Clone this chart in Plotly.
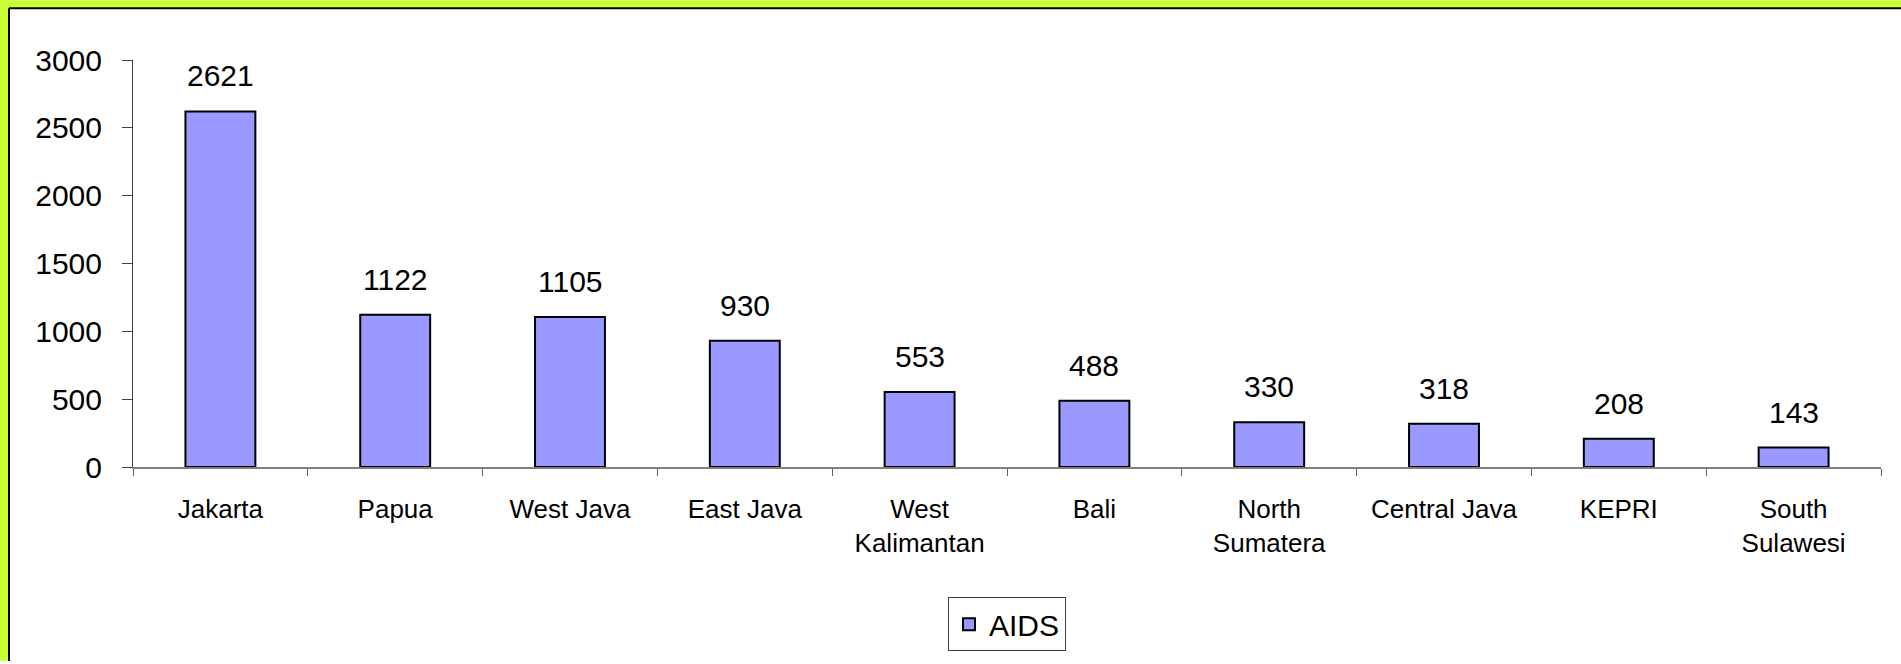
import plotly.graph_objects as go

categories = ["Jakarta", "Papua", "West Java", "East Java", "West<br>Kalimantan",
              "Bali", "North<br>Sumatera", "Central Java", "KEPRI", "South<br>Sulawesi"]
aids_values = [2621, 1122, 1105, 930, 553, 488, 330, 318, 208, 143]
y_ticks = [0, 500, 1000, 1500, 2000, 2500, 3000]
series_name = "AIDS"

W, H = 1901, 664
L, R, T, B = 133, 20, 60, 195
pw, ph = W - L - R, H - T - B

FONT = "Liberation Sans, Arial, sans-serif"
GREEN = "#CCFF33"


def px_x(p):
    return (p - L) / pw


def px_y(p):
    return 1 - (p - T) / ph


fig = go.Figure()
fig.add_trace(go.Bar(
    x=categories, y=aids_values, name=series_name,
    marker=dict(color="#9999FF", line=dict(color="#000000", width=2)),
    showlegend=True,
))

for c, v in zip(categories, aids_values):
    fig.add_annotation(x=c, y=v, text=str(v), showarrow=False,
                       yanchor="bottom", yshift=17,
                       font=dict(family=FONT, size=30, color="#000000"))

# green border strips on top and left, with black edge lines
fig.add_shape(type="rect", xref="paper", yref="paper",
              x0=px_x(0), x1=px_x(W), y0=px_y(8), y1=px_y(0),
              fillcolor=GREEN, line=dict(width=0), layer="below")
fig.add_shape(type="rect", xref="paper", yref="paper",
              x0=px_x(0), x1=px_x(9), y0=px_y(H), y1=px_y(0),
              fillcolor=GREEN, line=dict(width=0), layer="below")
fig.add_shape(type="line", xref="paper", yref="paper",
              x0=px_x(9), x1=px_x(W), y0=px_y(8), y1=px_y(8),
              line=dict(color="#000000", width=2), layer="below")
fig.add_shape(type="line", xref="paper", yref="paper",
              x0=px_x(9), x1=px_x(9), y0=px_y(8), y1=px_y(H),
              line=dict(color="#000000", width=2), layer="below")

fig.update_layout(
    width=W, height=H,
    margin=dict(l=L, r=R, t=T, b=B, pad=0),
    paper_bgcolor="#FFFFFF",
    plot_bgcolor="#FFFFFF",
    bargap=0.6,
    font=dict(family=FONT, color="#000000"),
    legend=dict(orientation="h", x=0.5, xanchor="center", y=px_y(600),
                yanchor="top", bordercolor="#404040", borderwidth=1,
                bgcolor="#FFFFFF", font=dict(family=FONT, size=30)),
    xaxis=dict(
        type="category", range=[-0.5, 9.5],
        showline=True, linecolor="#808080", linewidth=2,
        ticks="outside", tickson="boundaries", ticklen=7, tickcolor="#606060", tickwidth=1,
        tickfont=dict(family=FONT, size=26), ticklabelstandoff=18,
        showgrid=False, zeroline=False,
    ),
    yaxis=dict(
        range=[0, 3000], tickvals=y_ticks,
        showline=True, linecolor="#404040", linewidth=1,
        ticks="outside", ticklen=10, tickcolor="#404040", tickwidth=1,
        tickfont=dict(family=FONT, size=30), ticklabelstandoff=14,
        showgrid=False, zeroline=False,
    ),
)

fig.write_html("out.html",
               config={"displayModeBar": False},
               post_script="document.body.style.margin='0';document.body.style.overflow='hidden';")
